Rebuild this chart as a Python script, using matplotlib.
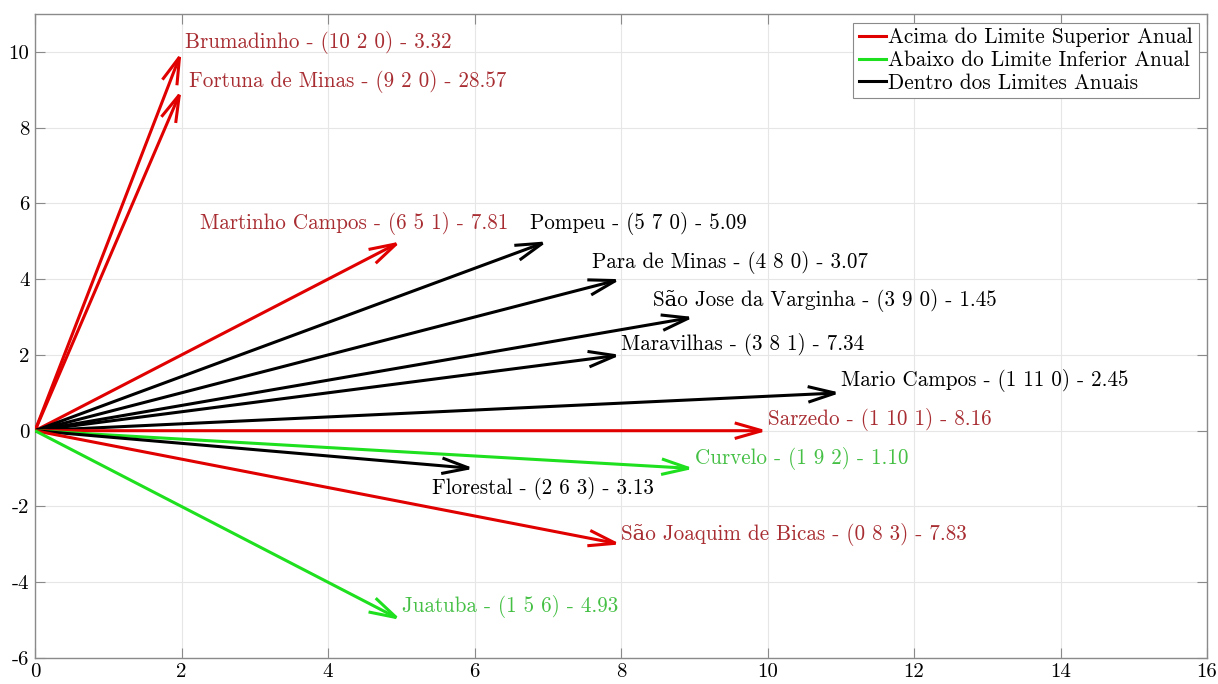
import matplotlib
matplotlib.use("Agg")
import matplotlib.pyplot as plt
from matplotlib.patches import FancyArrowPatch
from matplotlib.lines import Line2D

plt.rcParams['font.family'] = ['cmr10', 'DejaVu Serif']
plt.rcParams['axes.unicode_minus'] = False
plt.rcParams['mathtext.fontset'] = 'cm'

# Data
cities = ["Brumadinho", "Fortuna de Minas", "Martinho Campos", "Pompeu",
          "Para de Minas", "São Jose da Varginha", "Maravilhas", "Mario Campos",
          "Sarzedo", "Curvelo", "Florestal", "São Joaquim de Bicas", "Juatuba"]
codes = ["(10 2 0)", "(9 2 0)", "(6 5 1)", "(5 7 0)", "(4 8 0)", "(3 9 0)",
         "(3 8 1)", "(1 11 0)", "(1 10 1)", "(1 9 2)", "(2 6 3)", "(0 8 3)", "(1 5 6)"]
values = ["3.32", "28.57", "7.81", "5.09", "3.07", "1.45", "7.34", "2.45",
          "8.16", "1.10", "3.13", "7.83", "4.93"]
x_end = [2, 2, 5, 7, 8, 9, 8, 11, 10, 9, 6, 8, 5]
y_end = [10, 9, 5, 5, 4, 3, 2, 1, 0, -1, -1, -3, -5]
status = ["up", "up", "up", "in", "in", "in", "in", "in", "up", "down", "in", "up", "down"]

# label anchor positions (left, center) in data coords
label_x = [2.05, 2.10, 2.25, 6.76, 7.60, 8.44, 8.0, 11.0, 10.0, 9.01, 5.42, 8.0, 5.01]
label_y = [10.26, 9.21, 5.46, 5.46, 4.43, 3.43, 2.27, 1.32, 0.29, -0.74, -1.53, -2.74, -4.64]

arrow_col = {"up": "#e00000", "down": "#1ee01e", "in": "#000000"}
text_col = {"up": "#a82d32", "down": "#45c045", "in": "#000000"}
legend_labels = {"up": "Acima do Limite Superior Anual",
                 "down": "Abaixo do Limite Inferior Anual",
                 "in": "Dentro dos Limites Anuais"}

fig = plt.figure(figsize=(12.18, 6.84), dpi=100)
ax = fig.add_axes([35/1218, 1-658/684, (1207-35)/1218, (658-14)/684])

ax.set_xlim(0, 16)
ax.set_ylim(-6, 11)
ax.set_xticks(range(0, 17, 2))
ax.set_yticks(range(-6, 11, 2))
ax.set_xticklabels([str(v) for v in range(0, 17, 2)])
ax.set_yticklabels([str(v) for v in range(-6, 11, 2)])
ax.grid(True, color="#e6e6e6", linewidth=0.8)
ax.set_axisbelow(True)
for s in ax.spines.values():
    s.set_color("#8a8a8a")
    s.set_linewidth(1.0)
ax.tick_params(direction="in", top=True, right=True, length=7, width=0.8,
               color="#8a8a8a", labelsize=15, pad=4)

for i in range(len(cities)):
    st = status[i]
    arr = FancyArrowPatch((0, 0), (x_end[i], y_end[i]),
                          arrowstyle="->,head_length=1.4,head_width=0.4",
                          mutation_scale=14, color=arrow_col[st], linewidth=2.2,
                          shrinkA=0, shrinkB=0, joinstyle="miter", capstyle="butt",
                          zorder=3)
    ax.add_patch(arr)
    ax.text(label_x[i], label_y[i], f"{cities[i]} - {codes[i]} - {values[i]}",
            color=text_col[st], fontsize=15.2, ha="left", va="center", zorder=4)

handles = [Line2D([0], [0], color=arrow_col[k], linewidth=2.2) for k in ["up", "down", "in"]]
leg = ax.legend(handles, [legend_labels[k] for k in ["up", "down", "in"]],
                loc="upper right", fontsize=15.3, handlelength=1.3, handletextpad=0.1,
                borderpad=0.25, labelspacing=0.15, fancybox=False, framealpha=1,
                borderaxespad=0.4)
leg.get_frame().set_edgecolor("#8a8a8a")
leg.get_frame().set_linewidth(0.8)

fig.savefig("out.png", dpi=100)
